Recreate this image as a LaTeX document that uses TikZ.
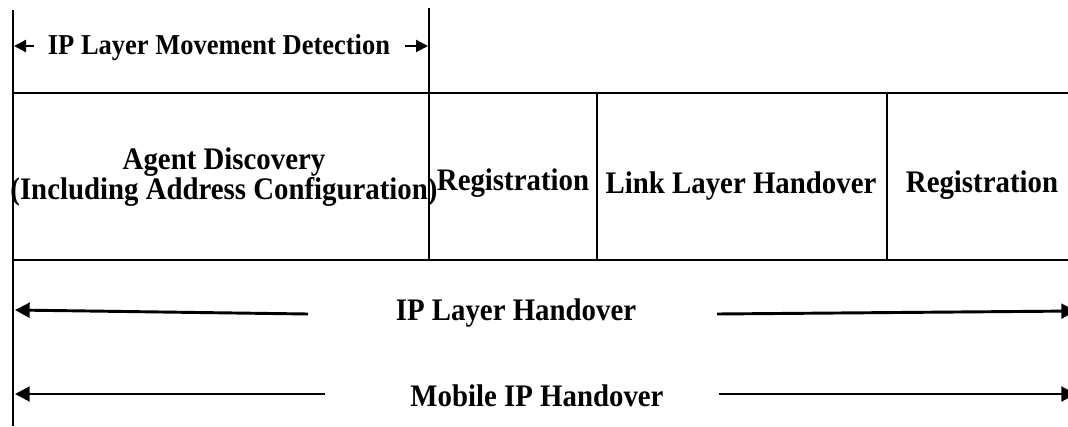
\documentclass[tikz,border=0pt]{standalone}
\usepackage{fontspec}
\setmainfont{Liberation Serif}[FakeStretch=0.92]
\usetikzlibrary{arrows.meta}
\begin{document}
\begin{tikzpicture}[x=0.75pt,y=-0.75pt,
  box/.style={line width=1.5pt},
  lbl/.style={font=\fontsize{23.5pt}{22pt}\selectfont\bfseries, inner sep=0pt, align=center},
  toplbl/.style={lbl, font=\fontsize{21.6pt}{22pt}\selectfont\bfseries},
  arr/.style={line width=2.2pt, -{Triangle[length=11pt,width=11pt]}},
  sarr/.style={line width=1.6pt, -{Triangle[length=9pt,width=9pt]}}]
\useasboundingbox (0,0) rectangle (1068,426);
% table lines
\draw[box] (13,10) -- (13,426);
\draw[box] (429,8) -- (429,260);
\draw[box] (13,93) -- (1068,93);
\draw[box] (13,260) -- (1068,260);
\draw[box] (597,93) -- (597,260);
\draw[box] (887,93) -- (887,260);
% labels
\node[toplbl] (mov) at (219,48) {IP Layer Movement Detection};
\node[lbl] (ad) at (224,177) {Agent Discovery\\(Including Address Configuration)};
\node[lbl] (reg1) at (513,183) {Registration};
\node[lbl] (llh) at (741,186) {Link Layer Handover};
\node[lbl] (reg2) at (982,185) {Registration};
\node[lbl] (iph) at (516,313) {IP Layer Handover};
\node[lbl] (mih) at (537,396) {Mobile IP Handover};
% arrow ends
\coordinate (movL0) at (34,46);
\coordinate (movL1) at (14,46);
\coordinate (movR0) at (405,46);
\coordinate (movR1) at (428,46);
\coordinate (iphL0) at (308,314);
\coordinate (iphL1) at (15,310);
\coordinate (iphR0) at (717,314);
\coordinate (iphR1) at (1076,311);
\coordinate (mihL0) at (325,394);
\coordinate (mihL1) at (15,394);
\coordinate (mihR0) at (719,394);
\coordinate (mihR1) at (1076,394);
\draw[sarr] (movL0) -- (movL1);
\draw[sarr] (movR0) -- (movR1);
\draw[arr] (iphL0) -- (iphL1);
\draw[arr] (iphR0) -- (iphR1);
\draw[arr] (mihL0) -- (mihL1);
\draw[arr] (mihR0) -- (mihR1);
\end{tikzpicture}
\end{document}
